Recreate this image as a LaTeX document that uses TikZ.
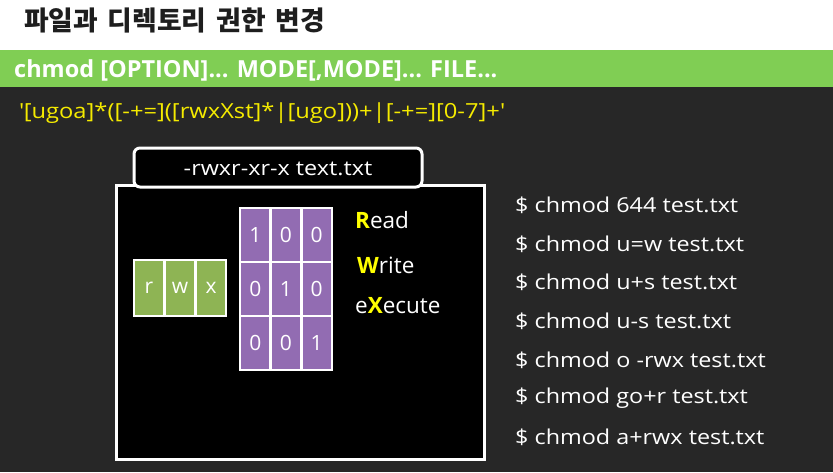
\documentclass[tikz,border=0pt]{standalone}
\usepackage{fontspec}
\setmainfont{Open Sans}
\newfontfamily\widefont{Open Sans}[FakeStretch=1.14]
\newfontfamily\krfont{Noto Sans CJK KR}[WordSpace=1.6]
\definecolor{bgdark}{RGB}{39,39,39}
\definecolor{bandgreen}{RGB}{128,206,84}
\definecolor{rxyellow}{RGB}{245,235,0}
\definecolor{hiyellow}{RGB}{255,255,0}
\definecolor{cellgreen}{RGB}{142,180,84}
\definecolor{cellpurple}{RGB}{146,108,178}
\definecolor{titlegray}{RGB}{30,30,30}
\tikzset{
  gcell/.style={draw=white, line width=2.5pt, fill=cellgreen, minimum width=30pt, minimum height=56pt, inner sep=0pt, text=white, font=\fontsize{21}{21}\selectfont},
  pcell/.style={draw=white, line width=2.5pt, fill=cellpurple, minimum width=30.7pt, minimum height=54pt, inner sep=0pt, text=white, font=\fontsize{21}{21}\selectfont},
  cmd/.style={anchor=west, text=white, inner sep=0pt, font=\widefont\fontsize{20.5}{20.5}\selectfont},
  rwx/.style={anchor=west, text=white, inner sep=0pt, font=\fontsize{22.5}{22.5}\selectfont}
}
\begin{document}
\begin{tikzpicture}[x=1pt,y=-1pt]
\useasboundingbox (0,0) rectangle (833,472);
% backgrounds
\fill[white] (0,0) rectangle (833,49);
\fill[bandgreen] (0,50) rectangle (833,87);
\fill[bgdark] (0,87) rectangle (833,472);
% title
\node[anchor=west, inner sep=0pt, text=titlegray, font=\krfont\bfseries\fontsize{26.8}{26.8}\selectfont] (title) at (24,20) {파일과 디렉토리 권한 변경};
% synopsis
\node[anchor=west, inner sep=0pt, text=white, font=\bfseries\fontsize{23.5}{23.5}\selectfont] (synopsis) at (14,70) {chmod [OPTION]... MODE[,MODE]... FILE...};
% regex
\node[anchor=west, inner sep=0pt, text=rxyellow, font=\widefont\fontsize{20.8}{20.8}\selectfont] (regex) at (19,113) {\textquotesingle[ugoa]*([-+=]([rwxXst]*|[ugo]))+|[-+=][0-7]+\textquotesingle};
% panel body and tab
\draw[white, line width=3pt, fill=black] (116,185) rectangle (484,459);
\draw[white, line width=3pt, fill=black, rounded corners=6pt] (134,187) -- (134,148) -- (422,148) -- (422,187) -- cycle;
\node[text=white, inner sep=0pt, font=\widefont\fontsize{20.5}{20.5}\selectfont] (tabtext) at (278,169) {-rwxr-xr-x text.txt};
% rwx cells
\node[gcell] (gr) at (149,288) {r};
\node[gcell] (gw) at (180,288) {w};
\node[gcell] (gx) at (211,288) {x};
% purple grid
\node[pcell] (p11) at (255.3,235) {1};
\node[pcell] (p12) at (286,235) {0};
\node[pcell] (p13) at (316.7,235) {0};
\node[pcell] (p21) at (255.3,289) {0};
\node[pcell] (p22) at (286,289) {1};
\node[pcell] (p23) at (316.7,289) {0};
\node[pcell] (p31) at (255.3,343) {0};
\node[pcell] (p32) at (286,343) {0};
\node[pcell] (p33) at (316.7,343) {1};
% labels
\node[rwx] (read) at (355,220) {\textcolor{hiyellow}{\bfseries R}ead};
\node[rwx] (write) at (357,265) {\textcolor{hiyellow}{\bfseries W}rite};
\node[rwx] (exec) at (355,306) {e\textcolor{hiyellow}{\bfseries X}ecute};
% commands
\node[cmd] (c1) at (515,205) {\$ chmod 644 test.txt};
\node[cmd] (c2) at (515,244) {\$ chmod u=w test.txt};
\node[cmd] (c3) at (515,282) {\$ chmod u+s test.txt};
\node[cmd] (c4) at (515,321) {\$ chmod u-s test.txt};
\node[cmd] (c5) at (515,360) {\$ chmod o -rwx test.txt};
\node[cmd] (c6) at (515,398) {\$ chmod go+r test.txt};
\node[cmd] (c7) at (515,437) {\$ chmod a+rwx test.txt};
\end{tikzpicture}
\end{document}
